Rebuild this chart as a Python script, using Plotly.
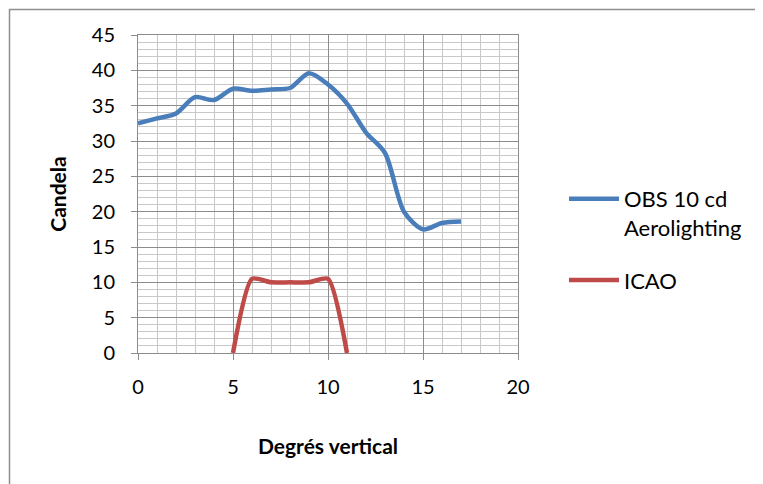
import plotly.graph_objects as go

x_obs = [0, 1, 2, 3, 4, 5, 6, 7, 8, 9, 10, 11, 12, 13, 14, 15, 16, 17]
y_obs = [32.5, 33.2, 33.9, 36.2, 35.8, 37.4, 37.1, 37.3, 37.5, 39.6, 38.0, 35.3, 31.2, 28.3, 20.0, 17.5, 18.4, 18.6]
x_icao = [5, 6, 7, 8, 9, 10, 11]
y_icao = [0, 10.5, 10.0, 10.0, 10.0, 10.5, 0]

name_obs = "OBS 10 cd<br>Aerolighting"
name_icao = "ICAO"
x_title = "Degrés vertical"
y_title = "Candela"

O = 8  # page body margin
W, H = 763 - O, 484 - O
L, R, T, B = 138 - O, 518 - O, 35 - O, 353 - O

fig = go.Figure()
fig.add_trace(go.Scatter(x=x_obs, y=y_obs, name=name_obs, mode="lines", legendgroup="obs",
                         line=dict(color="#4A7EBB", width=4.5, shape="spline", smoothing=0.8)))
fig.add_trace(go.Scatter(x=x_icao, y=y_icao, name=name_icao, mode="lines", legendgroup="icao",
                         line=dict(color="#BE4B48", width=4.5, shape="spline", smoothing=0.6)))

font = "Lato, 'Open Sans', sans-serif"
pw, ph = R - L, B - T

fig.update_layout(
    width=W, height=H,
    margin=dict(l=L, r=W - R, t=T, b=H - B, pad=0),
    paper_bgcolor="white", plot_bgcolor="white",
    font=dict(family=font, size=20, color="black"),
    showlegend=True,
    legend=dict(x=(564 - O - L) / pw, y=(B - (178 - O)) / ph, xanchor="left", yanchor="top",
                font=dict(size=22), tracegroupgap=21, itemwidth=50, valign="top",
                bgcolor="rgba(0,0,0,0)"),
    xaxis=dict(range=[0, 20], dtick=5, tick0=0, showgrid=True, gridcolor="#8C8C8C", gridwidth=1,
               minor=dict(dtick=1, showgrid=True, gridcolor="#C8C8C8", gridwidth=1),
               showline=True, linecolor="#8C8C8C", linewidth=1, mirror=True,
               ticks="outside", ticklen=6, tickcolor="#8C8C8C", zeroline=False,
               title=dict(text="<b>%s</b>" % x_title, font=dict(size=21), standoff=42),
               ticklabelstandoff=10),
    yaxis=dict(range=[0, 45], dtick=5, tick0=0, showgrid=True, gridcolor="#8C8C8C", gridwidth=1,
               minor=dict(dtick=1, showgrid=True, gridcolor="#C8C8C8", gridwidth=1),
               showline=True, linecolor="#8C8C8C", linewidth=1, mirror=True,
               ticks="outside", ticklen=6, tickcolor="#8C8C8C", zeroline=False,
               title=dict(text="<b>%s</b>" % y_title, font=dict(size=21), standoff=19),
               ticklabelstandoff=12),
)

# outer chart border
fig.add_shape(type="rect", xref="paper", yref="paper",
              x0=(9.5 - O - L) / pw, x1=(W + 20 - L) / pw,
              y0=(B - (H + 20)) / ph, y1=(B - (9.5 - O)) / ph,
              line=dict(color="#8E8E8E", width=1.5), fillcolor="rgba(0,0,0,0)", layer="below")

fig.write_html("out.html")
